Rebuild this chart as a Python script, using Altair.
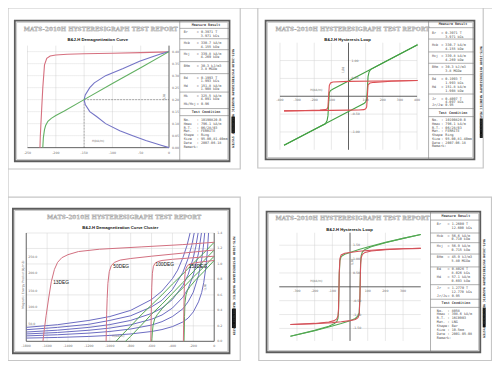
import altair as alt
import pandas as pd

# ---------------- data ----------------
TITLE = "MATS-2010H HYSTERESIGRAPH TEST REPORT"
SIDE_NOTE = "MATS-2010H HYSTERESIGRAPH  MAGNETIC MEASUREMENT SYSTEM"

# top-left: demagnetization curve (H in kA/m, B in T)
TL_SUBTITLE = "B&J-H Demagnetization Curve"
TL_X_TICKS = [-250, -200, -150, -100, -50, 0]
TL_Y_TICKS = [0.00, 0.05, 0.10, 0.15, 0.20, 0.25, 0.30, 0.35, 0.40]
TL_J_H = [-228, -227.5, -226.5, -225, -223, -220, -216, -210, -200, -180, -150, -100, -50, 0]
TL_J_B = [0.0, 0.04, 0.09, 0.16, 0.25, 0.345, 0.372, 0.382, 0.386, 0.389, 0.391, 0.393, 0.396, 0.399]
TL_B_H = [0, -50, -100, -150, -185, -200, -208, -214, -218, -220, -222, -223]
TL_B_B = [0.400, 0.333, 0.267, 0.200, 0.153, 0.134, 0.122, 0.110, 0.092, 0.075, 0.042, 0.0]
TL_BH_H = [0, -15, -28, -52, -62, -81, -112, -132, -140, -148, -150, -148, -140, -128, -112, -87, -64, -41, -14, 0]
TL_BH_B = [0.40, 0.39, 0.38, 0.36, 0.35, 0.33, 0.30, 0.27, 0.25, 0.22, 0.20, 0.18, 0.15, 0.13, 0.10, 0.07, 0.05, 0.03, 0.01, 0.00]

# top-right: hysteresis loop
TR_SUBTITLE = "B&J-H Hysteresis Loop"
TR_X_TICKS = [-400, -300, -200, -100, 0, 100, 200, 300, 400]
TR_Y_TICKS = [-1.0, -0.5, 0.5, 1.0]
TR_J_DESC_H = [403, 300, 184, 0, -91, -105, -112, -116, -120, -124, -135, -167, -250, -376]
TR_J_DESC_B = [0.443, 0.435, 0.426, 0.416, 0.400, 0.370, 0.300, 0.020, -0.300, -0.350, -0.375, -0.39, -0.40, -0.41]
TR_J_ASC_H = [-376, -250, -100, 0, 60, 90, 100, 106, 110, 114, 125, 150, 250, 403]
TR_J_ASC_B = [-0.41, -0.405, -0.395, -0.39, -0.385, -0.375, -0.35, -0.30, 0.00, 0.32, 0.37, 0.39, 0.42, 0.443]
TR_B_DESC_H = [403, 200, 0, -90, -105, -112, -116, -120, -125, -135, -200, -376]
TR_B_DESC_B = [1.44, 0.93, 0.43, 0.205, 0.16, 0.10, -0.20, -0.55, -0.68, -0.77, -0.93, -1.37]
TR_B_ASC_H = [-376, -200, 0, 90, 100, 106, 110, 114, 120, 130, 200, 403]
TR_B_ASC_B = [-1.37, -0.93, -0.43, -0.205, -0.16, -0.10, 0.20, 0.55, 0.68, 0.755, 0.93, 1.44]

# bottom-left: demagnetization curve cluster
BL_SUBTITLE = "B&J-H Demagnetization Curve Cluster"
BL_X_TICKS = [-1800, -1600, -1400, -1200, -1000, -800, -600, -400, -200, 0]
BL_Y_TICKS = [0.0, 0.2, 0.4, 0.6, 0.8, 1.0, 1.2, 1.4]
BL_E_LABELS = ["250.0", "200.0", "150.0", "100.0", "50.0"]
BL_E_AT_B = [1.09, 0.88, 0.65, 0.44, 0.23]
BL_TEMPS = ["13DEG", "50DEG", "100DEG", "150DEG"]
BL_TEMP_H = [-1542, -966, -562, -244]
BL_TEMP_B = [0.75, 0.96, 0.98, 0.96]
BL_J1_H = [-1640, -1630, -1610, -1585, -1560, -1530, -1500, -1460, -1400, -1300, -1100, -700, -300, 0]
BL_J1_B = [0.0, 0.12, 0.33, 0.56, 0.77, 0.93, 1.02, 1.08, 1.12, 1.16, 1.19, 1.22, 1.25, 1.28]
BL_J2_H = [-1035, -1033, -1030, -1025, -1018, -1005, -985, -955, -900, -800, -600, -300, 0]
BL_J2_B = [0.0, 0.15, 0.35, 0.55, 0.75, 0.90, 0.98, 1.02, 1.05, 1.07, 1.10, 1.14, 1.18]
BL_J3_H = [-607, -605, -602, -598, -592, -582, -565, -540, -500, -400, -250, 0]
BL_J3_B = [0.0, 0.2, 0.45, 0.7, 0.88, 0.97, 1.01, 1.03, 1.045, 1.06, 1.075, 1.10]
BL_J4_H = [-295, -293, -290, -286, -280, -270, -255, -230, -180, -100, 0]
BL_J4_B = [0.0, 0.2, 0.45, 0.7, 0.86, 0.94, 0.98, 1.0, 1.015, 1.03, 1.045]
BL_B1_H = [-940, -900, -800, -700, -600, -500, -400, -300, -200, -100, 0]
BL_B1_B = [0.0, 0.06, 0.195, 0.34, 0.47, 0.60, 0.74, 0.87, 1.01, 1.14, 1.28]
BL_B2_H = [-850, -800, -700, -600, -500, -400, -300, -200, -100, 0]
BL_B2_B = [0.0, 0.065, 0.205, 0.35, 0.48, 0.62, 0.76, 0.90, 1.04, 1.18]
BL_B3_H = [-598, -596, -592, -585, -570, -545, -500, -400, -300, -200, -100, 0]
BL_B3_B = [0.0, 0.04, 0.12, 0.21, 0.29, 0.345, 0.42, 0.56, 0.69, 0.83, 0.96, 1.10]
BL_B4_H = [-289, -287, -284, -280, -270, -255, -230, -180, -100, 0]
BL_B4_B = [0.0, 0.12, 0.32, 0.50, 0.60, 0.66, 0.71, 0.79, 0.90, 1.045]
BL_BH1_H = [-1800, -1500, -1200, -1000, -800, -600, -500, -400, -350, -300, -260, -231]
BL_BH1_B = [0.18, 0.215, 0.27, 0.32, 0.40, 0.54, 0.65, 0.81, 0.92, 1.08, 1.24, 1.40]
BL_BH2_H = [-1800, -1500, -1200, -1000, -800, -600, -500, -400, -300, -250, -215, -191]
BL_BH2_B = [0.15, 0.18, 0.22, 0.27, 0.33, 0.445, 0.53, 0.67, 0.89, 1.07, 1.24, 1.40]
BL_BH3_H = [-1800, -1500, -1200, -1000, -800, -600, -500, -400, -300, -250, -200, -175, -154]
BL_BH3_B = [0.12, 0.144, 0.18, 0.216, 0.27, 0.36, 0.43, 0.54, 0.72, 0.86, 1.08, 1.23, 1.40]
BL_BH4_H = [-1800, -1500, -1200, -1000, -800, -600, -500, -400, -300, -250, -200, -150, -122]
BL_BH4_B = [0.095, 0.114, 0.143, 0.171, 0.214, 0.285, 0.34, 0.43, 0.57, 0.68, 0.855, 1.14, 1.40]
BL_BH5_H = [-1800, -1500, -1200, -1000, -800, -600, -500, -400, -300, -250, -200, -150, -120, -105, -91]
BL_BH5_B = [0.07, 0.085, 0.106, 0.127, 0.159, 0.21, 0.254, 0.32, 0.42, 0.51, 0.635, 0.85, 1.06, 1.21, 1.40]
BL_BH6_H = [-1800, -1500, -1200, -1000, -800, -600, -500, -400, -300, -250, -200, -150, -120, -100, -80, -65, -54]
BL_BH6_B = [0.042, 0.05, 0.063, 0.076, 0.095, 0.127, 0.152, 0.19, 0.25, 0.30, 0.38, 0.51, 0.63, 0.76, 0.95, 1.17, 1.40]

# bottom-right: hysteresis loop
BR_SUBTITLE = "B&J-H Hysteresis Loop"
BR_X_TICKS = [-300, -200, -100, 100, 200, 300]
BR_Y_TICKS = [-1.5, -1.0, -0.5, 0.5, 1.0, 1.5]
BR_J_DESC_H = [400, 300, 200, 100, 50, 0, -30, -50, -57, -61, -63, -65, -68, -75, -90, -120, -200, -337]
BR_J_DESC_B = [1.385, 1.37, 1.35, 1.31, 1.28, 1.24, 1.21, 1.15, 1.02, 0.50, -0.20, -0.80, -1.05, -1.16, -1.22, -1.27, -1.32, -1.36]
BR_J_ASC_H = [-337, -200, -100, -50, 0, 30, 45, 52, 56, 58, 60, 63, 70, 85, 120, 200, 300, 400]
BR_J_ASC_B = [-1.36, -1.33, -1.29, -1.26, -1.22, -1.18, -1.11, -1.00, -0.40, 0.30, 0.80, 1.05, 1.17, 1.24, 1.29, 1.34, 1.37, 1.385]
BR_B_DESC_H = [400, 300, 200, 100, 50, 0, -30, -50, -57, -61, -63, -65, -68, -75, -90, -120, -200, -337]
BR_B_DESC_B = [1.888, 1.747, 1.601, 1.436, 1.343, 1.24, 1.172, 1.087, 0.948, 0.423, -0.279, -0.882, -1.136, -1.254, -1.333, -1.421, -1.571, -1.784]
BR_B_ASC_H = [-337, -200, -100, -50, 0, 30, 45, 52, 56, 58, 60, 63, 70, 85, 120, 200, 300, 400]
BR_B_ASC_B = [-1.784, -1.581, -1.416, -1.323, -1.22, -1.142, -1.053, -0.934, -0.329, 0.373, 0.876, 1.129, 1.258, 1.347, 1.441, 1.591, 1.747, 1.888]

# side panels
TL_RESULT_LABELS = ["Br", "", "Hcb", "", "Hcj", "", "BHm", "", "Bd", "", "Hd", "", "Hk", "", "Hk/Hcj"]
TL_RESULT_VALUES = ["= 0.3971 T", "3.971 kGs", "= 330.7 kA/m", "4.155 kOe", "= 339.8 kA/m", "4.269 kOe",
                    "= 30.3 kJ/m3", "3.8  MGOe", "= 0.1993 T", "1.993 kGs", "= 151.8 kA/m", "1.908 kOe",
                    "= 325.5 kA/m", "4.091 kOe", "= 0.96"]
COND_LABELS = ["No.", "Hmax", "R.T.", "Mat.", "Shape", "Size", "Date", "Remark:"]
TL_COND_VALUES = [": 10190820-B", ": 796.1 kA/m", ": 06/28/03", ": FERRITE", ": Ring", ": 95.00,81.40mm", ": 2007-06-18", ""]
TR_RESULT_LABELS = ["Br", "", "Hcb", "", "Hcj", "", "BHm", "", "Bd", "", "Hd", "", "Jr", "", "Jr/Js"]
TR_RESULT_VALUES = ["= 0.3971 T", "3.971 kGs", "= 330.7 kA/m", "4.155 kOe", "= 339.8 kA/m", "4.269 kOe",
                    "= 30.3 kJ/m3", "3.8  MGOe", "= 0.1993 T", "1.993 kGs", "= 151.8 kA/m", "1.908 kOe",
                    "= 0.4097 T", "4.097 kGs", "= 0.95"]
TR_COND_VALUES = [": 10190820-B", ": 796.1 kA/m", ": 06/28/03", ": FERRITE", ": Ring", ": 95.00,81.40mm", ": 2007-06-18", ""]
BR_RESULT_LABELS = ["Br", "", "Hcb", "", "Hcj", "", "BHm", "", "Bd", "", "Hd", "", "Jr", "", "Jr/Js"]
BR_RESULT_VALUES = ["= 1.2600 T", "12.600 kGs", "= 56.6 kA/m", "0.710 kOe", "= 56.9 kA/m", "0.715 kOe",
                    "= 45.9 kJ/m3", "5.80 MGOe", "= 0.8026 T", "8.026 kGs", "= 57.1 kA/m", "0.693 kOe",
                    "= 1.2770 T", "12.770 kGs", "= 0.95"]
BR_COND_VALUES = [": 8058", ": 398.6 kA/m", ": 16C0903", ": LNG", ": Bar", ": 10.5mm", ": 2001-05-08", ""]

# ---------------- layout helpers (pixel placement of the report frames) ----------------
CW, CH = 484, 353


def cx(px):
    return (px - 2.0) * CW / 496.0


def cy(py):
    return (py - 3.0) * CH / 364.0


def _pix():
    return dict(x=alt.X("x:Q", scale=None, axis=None), y=alt.Y("y:Q", scale=None, axis=None))


def rect_layer(boxes, **style):
    df = pd.DataFrame([{"x": cx(a), "y": cy(b), "x2": cx(c), "y2": cy(d)} for a, b, c, d in boxes])
    return alt.Chart(df).mark_rect(**style).encode(x2="x2:Q", y2="y2:Q", **_pix())


def rule_layer(segs, **style):
    df = pd.DataFrame([{"x": cx(a), "y": cy(b), "x2": cx(c), "y2": cy(d)} for a, b, c, d in segs])
    return alt.Chart(df).mark_rule(**style).encode(x2="x2:Q", y2="y2:Q", **_pix())


def text_layer(items, **style):
    df = pd.DataFrame([{"x": cx(a), "y": cy(b), "t": t} for a, b, t in items])
    return alt.Chart(df).mark_text(**style).encode(text="t:N", **_pix())


# ---------------- plot helpers (data through scales) ----------------
def qscales(xdom, xpx, ydom, ypx):
    sx = alt.Scale(domain=xdom, range=[cx(xpx[0]), cx(xpx[1])], nice=False, zero=False)
    sy = alt.Scale(domain=ydom, range=[cy(ypx[0]), cy(ypx[1])], nice=False, zero=False)
    return sx, sy


def vlines(sx, sy, hs, b0, b1, **style):
    df = pd.DataFrame({"h": hs, "b": [b0] * len(hs), "b2": [b1] * len(hs)})
    return alt.Chart(df).mark_rule(**style).encode(
        x=alt.X("h:Q", scale=sx, axis=None), y=alt.Y("b:Q", scale=sy, axis=None), y2="b2:Q")


def hlines(sx, sy, bs, h0, h1, **style):
    df = pd.DataFrame({"b": bs, "h": [h0] * len(bs), "h2": [h1] * len(bs)})
    return alt.Chart(df).mark_rule(**style).encode(
        x=alt.X("h:Q", scale=sx, axis=None), x2="h2:Q", y=alt.Y("b:Q", scale=sy, axis=None))


def curves(sx, sy, series, width=1.1):
    rows = []
    for k, (hs, bs, color) in enumerate(series):
        for i, (h, b) in enumerate(zip(hs, bs)):
            rows.append({"h": h, "b": b, "k": k, "i": i, "c": color})
    df = pd.DataFrame(rows)
    return alt.Chart(df).mark_line(strokeWidth=width).encode(
        x=alt.X("h:Q", scale=sx, axis=None), y=alt.Y("b:Q", scale=sy, axis=None),
        detail="k:N", order="i:Q", color=alt.Color("c:N", scale=None))


def labels(sx, sy, hs, bs, texts, **style):
    df = pd.DataFrame({"h": hs, "b": bs, "t": texts})
    return alt.Chart(df).mark_text(**style).encode(
        x=alt.X("h:Q", scale=sx, axis=None), y=alt.Y("b:Q", scale=sy, axis=None), text="t:N")


GRID = dict(color="#d2d2d2", strokeWidth=0.5)
AXIS = dict(color="#3a3a3a", strokeWidth=0.8)
TICKF = dict(fontSize=3.2, font="DejaVu Sans", color="#707070")

# ---- top-left quadrant ----
sx, sy = qscales([-250, 0], [22, 167], [0, 0.40], [147, 48])
q_tl = alt.layer(
    vlines(sx, sy, TL_X_TICKS[:-1], 0, 0.425, **GRID),
    hlines(sx, sy, TL_Y_TICKS[1:], -250, 0, strokeDash=[1, 1], color="#bdbdbd", strokeWidth=0.5),
    vlines(sx, sy, [-150], 0, 0.20, strokeDash=[2, 1], color="#777777", strokeWidth=0.6),
    hlines(sx, sy, [0.20], -150, 0, strokeDash=[2, 1], color="#777777", strokeWidth=0.6),
    vlines(sx, sy, [0], 0, 0.425, **AXIS),
    hlines(sx, sy, [0], -250, 0, **AXIS),
    curves(sx, sy, [(TL_J_H, TL_J_B, "#d6707f"), (TL_BH_H, TL_BH_B, "#7474c6"), (TL_B_H, TL_B_B, "#62b062")]),
    labels(sx, sy, TL_X_TICKS, [0] * len(TL_X_TICKS), [str(v) for v in TL_X_TICKS], dy=5, **TICKF),
    labels(sx, sy, [0] * len(TL_Y_TICKS), TL_Y_TICKS, [f"{v:.2f}" for v in TL_Y_TICKS], dx=3, align="left", **TICKF),
)

# ---- top-right quadrant ----
sx, sy = qscales([-400, 400], [280.7, 421.2], [-1.5, 1.5], [149.2, 38.8])
q_tr = alt.layer(
    vlines(sx, sy, [v for v in TR_X_TICKS if v != 0], -1.5, 1.5, **GRID),
    hlines(sx, sy, TR_Y_TICKS, -400, 400, **GRID),
    vlines(sx, sy, [0], -1.5, 1.5, **AXIS),
    hlines(sx, sy, [0], -400, 400, **AXIS),
    curves(sx, sy, [(TR_B_DESC_H, TR_B_DESC_B, "#43a043"), (TR_B_ASC_H, TR_B_ASC_B, "#43a043"),
                    (TR_J_DESC_H, TR_J_DESC_B, "#dc5054"), (TR_J_ASC_H, TR_J_ASC_B, "#dc5054")]),
    labels(sx, sy, [v for v in TR_X_TICKS if v != 0], [0] * 8, [str(v) for v in TR_X_TICKS if v != 0], dy=4, **TICKF),
    labels(sx, sy, [0] * 4, TR_Y_TICKS, [f"{v:.2f}" for v in TR_Y_TICKS], dx=3, align="left", **TICKF),
)

# ---- bottom-left quadrant ----
sx, sy = qscales([-1800, 0], [20.7, 213.3], [0, 1.4], [346.7, 235])
q_bl = alt.layer(
    vlines(sx, sy, BL_X_TICKS[1:-1], 0, 1.4, **GRID),
    hlines(sx, sy, BL_Y_TICKS[1:], -1800, 0, **GRID),
    vlines(sx, sy, [-1800, 0], 0, 1.4, **AXIS),
    hlines(sx, sy, [0], -1800, 0, **AXIS),
    curves(sx, sy, [(BL_BH1_H, BL_BH1_B, "#6c6cc2"), (BL_BH2_H, BL_BH2_B, "#6c6cc2"), (BL_BH3_H, BL_BH3_B, "#6c6cc2"),
                    (BL_BH4_H, BL_BH4_B, "#6c6cc2"), (BL_BH5_H, BL_BH5_B, "#6c6cc2"), (BL_BH6_H, BL_BH6_B, "#6c6cc2"),
                    (BL_B1_H, BL_B1_B, "#55a855"), (BL_B2_H, BL_B2_B, "#55a855"), (BL_B3_H, BL_B3_B, "#55a855"),
                    (BL_B4_H, BL_B4_B, "#55a855"),
                    (BL_J1_H, BL_J1_B, "#d27080"), (BL_J2_H, BL_J2_B, "#d27080"), (BL_J3_H, BL_J3_B, "#d27080"),
                    (BL_J4_H, BL_J4_B, "#d27080")], width=1.0),
    labels(sx, sy, BL_X_TICKS, [0] * len(BL_X_TICKS), [str(v) for v in BL_X_TICKS], dy=5, **TICKF),
    labels(sx, sy, [0] * len(BL_Y_TICKS), BL_Y_TICKS, [f"{v:.1f}" for v in BL_Y_TICKS], dx=3, align="left", **TICKF),
    labels(sx, sy, [-1800] * len(BL_E_LABELS), BL_E_AT_B, BL_E_LABELS, dx=2, align="left", **TICKF),
    labels(sx, sy, BL_TEMP_H, BL_TEMP_B, BL_TEMPS, align="left", fontSize=4.8, font="Liberation Sans", color="#111111"),
)

# ---- bottom-right quadrant ----
sx, sy = qscales([-400, 400], [280, 425], [-2, 2], [347.7, 233.3])
q_br = alt.layer(
    vlines(sx, sy, BR_X_TICKS, -1.95, 1.95, **GRID),
    hlines(sx, sy, BR_Y_TICKS, -400, 400, **GRID),
    vlines(sx, sy, [0], -1.95, 1.95, **AXIS),
    hlines(sx, sy, [0], -400, 400, **AXIS),
    curves(sx, sy, [(BR_B_DESC_H, BR_B_DESC_B, "#52a852"), (BR_B_ASC_H, BR_B_ASC_B, "#52a852"),
                    (BR_J_DESC_H, BR_J_DESC_B, "#d4525a"), (BR_J_ASC_H, BR_J_ASC_B, "#d4525a")]),
    labels(sx, sy, BR_X_TICKS, [0] * len(BR_X_TICKS), [str(v) for v in BR_X_TICKS], dy=4, **TICKF),
    labels(sx, sy, [0] * len(BR_Y_TICKS), BR_Y_TICKS, [f"{v:.2f}" for v in BR_Y_TICKS], dx=3, align="left", **TICKF),
)

# ---------------- report frames / text ----------------
outer = rect_layer([(2, 3, 240, 169), (258, 3, 489, 168), (2, 198, 240, 366.5), (259, 198, 497.5, 366.5)],
                   fill="white", stroke="#c6c6c6", strokeWidth=1.2)
inner = rect_layer([(9, 16, 229, 161), (266, 16, 480, 159), (7, 210, 229, 359), (267, 213, 486, 358)],
                   fillOpacity=0, stroke="#5c5c5c", strokeWidth=1.8)
inner2 = rect_layer([(10.8, 17.8, 227.2, 159.2), (267.8, 17.8, 478.2, 157.2), (8.8, 211.8, 227.2, 357.2),
                     (268.8, 214.8, 484.2, 356.2)], fillOpacity=0, stroke="#a8a8a8", strokeWidth=0.6)

panel_lines = [(178, 16, 178, 161), (433, 16, 433, 159), (435, 213, 435, 358)]
for yv in [24, 34.7, 46, 58.3, 70.7, 89.7, 106.7, 114]:
    panel_lines.append((178, yv, 229, yv))
for yv in [23.3, 35, 48.3, 60, 71.7, 91.7, 106.7, 115]:
    panel_lines.append((433, yv, 480, yv))
for yv in [221.7, 235, 245, 256.7, 270, 288.3, 303.3, 311.7]:
    panel_lines.append((435, yv, 486, yv))
panel_rules = rule_layer(panel_lines, color="#7a7a7a", strokeWidth=0.6)

strip_boxes = rect_layer([(231, 115, 234.5, 132), (485.5, 117, 488.5, 137), (231.5, 313, 235.5, 333),
                          (488.5, 312, 491.5, 332)], fill="#111111")
strips = text_layer([(232.7, 96, SIDE_NOTE), (487, 89.5, SIDE_NOTE[:50]), (233.5, 289.5, SIDE_NOTE),
                     (490, 292, SIDE_NOTE)], angle=90, fontSize=3.1, font="DejaVu Sans Mono", fontWeight="bold",
                    color="#333333")

titles = text_layer([(97, 24.5, TITLE), (355, 24.5, TITLE), (121, 219, TITLE), (355, 220, TITLE)],
                    fontSize=5.7, font="DejaVu Serif", fontWeight="bold", color="#cacaca", stroke="#8e8e8e",
                    strokeWidth=0.25)
subtitles = text_layer([(94, 35.5, TL_SUBTITLE), (350, 35.5, TR_SUBTITLE), (117, 230, BL_SUBTITLE),
                        (352, 232.3, BR_SUBTITLE)], fontSize=4.2, font="Liberation Sans", fontWeight="bold",
                       color="#111111")
axis_titles = text_layer([(94.3, 140, "H(kA/m)"), (318, 87, "H(kA/m)"), (115, 341, "H(kA/m)"), (318, 284.3, "H(kA/m)")],
                         fontSize=3, font="DejaVu Sans", color="#707070")
axis_titles_v = text_layer([(162.3, 95, "B(T)"), (346, 66.7, "B(T)"), (204, 291, "B(T)"), (355, 265, "B(T)")],
                           angle=90, fontSize=3, font="DejaVu Sans", color="#707070")
energy_title = text_layer([(17.3, 288.3, "Magnetic Energy Product(kJ/m3)")], angle=270, fontSize=3,
                          font="DejaVu Sans", color="#707070")

headers = text_layer([(205, 20.5, "Measure Result"), (205, 110.5, "Test Condition"),
                      (458, 20, "Measure Result"), (458, 111, "Test Condition"),
                      (461, 217.5, "Measure Result"), (461, 307.7, "Test Condition")],
                     fontSize=3.4, font="DejaVu Sans Mono", fontWeight="bold", color="#444444")

PANEL_Y = {
    "tl": [28, 31.7, 39, 43, 50.7, 54, 62.3, 66.3, 75, 78.3, 83, 86.7, 94, 97.3, 102.3],
    "tr": [29, 33, 41.5, 45.5, 53, 56.7, 64, 68, 76, 80, 84.5, 88.5, 96.5, 100, 103.3],
    "br": [225.7, 230, 237.7, 241.7, 248.3, 252.3, 260, 264.3, 272.3, 276.7, 280, 284, 291.7, 295.7, 300],
}
COND_Y = {"tl": (118.3, 4.0), "tr": (118.5, 3.9), "br": (315, 4.0)}
PANEL_X = {"tl": (182, 195.5), "tr": (436.5, 446), "br": (441.5, 452.5)}
PANEL_TEXT = {
    "tl": (TL_RESULT_LABELS, TL_RESULT_VALUES, TL_COND_VALUES),
    "tr": (TR_RESULT_LABELS, TR_RESULT_VALUES, TR_COND_VALUES),
    "br": (BR_RESULT_LABELS, BR_RESULT_VALUES, BR_COND_VALUES),
}
items = []
for key, (labs, vals, conds) in PANEL_TEXT.items():
    xl, xv = PANEL_X[key]
    for lab, val, yv in zip(labs, vals, PANEL_Y[key]):
        if lab:
            items.append((xl, yv, lab))
            items.append((xv, yv, val))
        else:
            items.append((xv + 4.1, yv, val))
    y0, dy = COND_Y[key]
    for j, (lab, val) in enumerate(zip(COND_LABELS, conds)):
        items.append((xl, y0 + j * dy, lab))
        if val:
            items.append((xv, y0 + j * dy, val))
panel_text = text_layer(items, fontSize=3.4, font="DejaVu Sans Mono", align="left", color="#4a4a4a")

chart = alt.layer(
    outer, inner2, inner, panel_rules,
    q_tl, q_tr, q_bl, q_br,
    titles, subtitles, axis_titles, axis_titles_v, energy_title, headers, panel_text, strip_boxes, strips,
).resolve_scale(x="independent", y="independent").properties(
    width=CW, height=CH, padding=0, autosize=alt.AutoSizeParams(type="none")
).configure_view(stroke=None).configure(background="white")

chart.save("out.html", embed_options={"renderer": "svg", "actions": False})
